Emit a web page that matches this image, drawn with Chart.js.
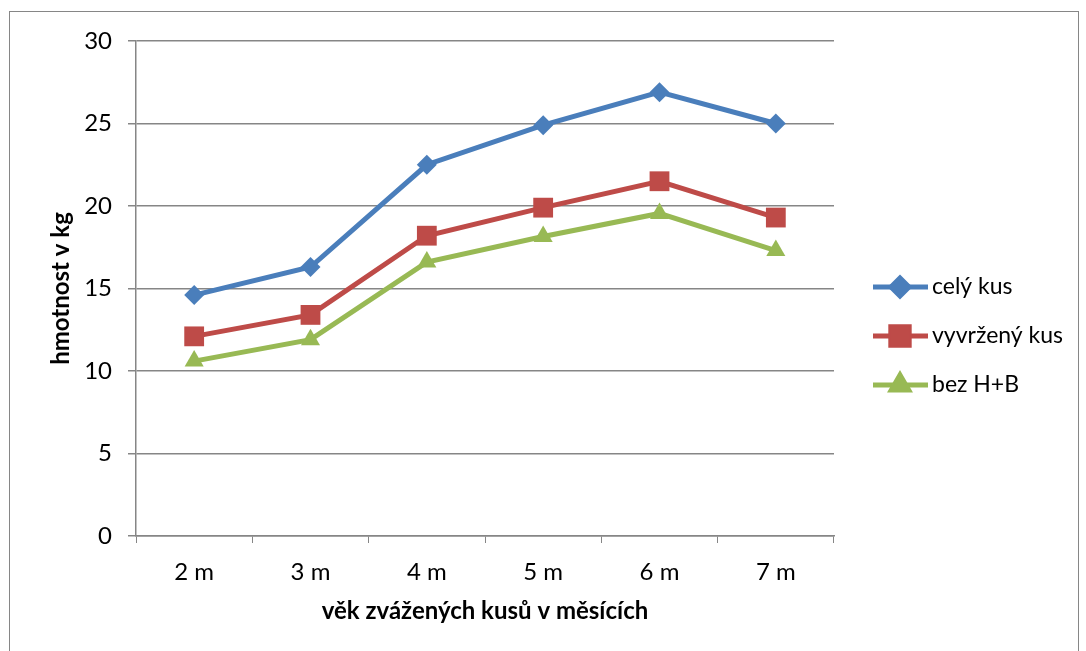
<!DOCTYPE html>
<html>
<head>
<meta charset="utf-8">
<style>
  html, body { margin: 0; padding: 0; background: #fff; }
  #wrap { position: relative; width: 1086px; height: 651px; }
</style>
<script src="https://cdn.jsdelivr.net/npm/chart.js@4"></script>
</head>
<body>
<div id="wrap"><canvas id="chart" width="1086" height="651"></canvas></div>
<script>
  var categories = ['2 m', '3 m', '4 m', '5 m', '6 m', '7 m'];
  var celyKus = [14.6, 16.3, 22.5, 24.9, 26.9, 25.0];
  var vyvrzenyKus = [12.1, 13.4, 18.2, 19.9, 21.5, 19.3];
  var bezHB = [10.6, 11.9, 16.6, 18.15, 19.55, 17.3];
  var seriesNames = ['celý kus', 'vyvržený kus', 'bez H+B'];

  var FONT = 'Lato, "Open Sans", sans-serif';

  // frame round the whole chart + legend with line and marker
  var framePlugin = {
    id: 'frame',
    beforeDraw: function(chart) {
      var ctx = chart.ctx;
      ctx.save();
      ctx.strokeStyle = '#868686';
      ctx.lineWidth = 1;
      ctx.strokeRect(9.5, 11.5, 1069, 700);
      ctx.restore();
    },
    afterDraw: function(chart) {
      var ctx = chart.ctx;
      ctx.save();
      chart.data.datasets.forEach(function(ds, i) {
        var y = 287 + i * 49;
        ctx.strokeStyle = ds.borderColor;
        ctx.lineWidth = 5;
        ctx.beginPath();
        ctx.moveTo(873, y);
        ctx.lineTo(928, y);
        ctx.stroke();
        Chart.helpers.drawPoint(ctx, {
          pointStyle: ds.pointStyle,
          radius: ds.pointRadius - 1,
          borderWidth: 1
        }, 900, y);
        ctx.fillStyle = ds.backgroundColor;
        ctx.fill();
        ctx.fillStyle = '#000';
        ctx.font = '23px ' + FONT;
        ctx.textBaseline = 'middle';
        ctx.textAlign = 'left';
        ctx.fillText(ds.label, 932, y);
      });
      ctx.restore();
    }
  };

  function series(label, data, color, style, radius) {
    return {
      label: label,
      data: data,
      borderColor: color,
      backgroundColor: color,
      borderWidth: 5,
      pointStyle: style,
      pointRadius: radius,
      pointHoverRadius: radius,
      pointBorderWidth: 0,
      tension: 0
    };
  }

  new Chart(document.getElementById('chart'), {
    type: 'line',
    data: {
      labels: categories,
      datasets: [
        series(seriesNames[0], celyKus, '#4A7EBB', 'rectRot', 10),
        series(seriesNames[1], vyvrzenyKus, '#BE4B48', 'rect', 14),
        series(seriesNames[2], bezHB, '#98B954', 'triangle', 11)
      ]
    },
    options: {
      responsive: false,
      animation: false,
      layout: { padding: { top: 41, right: 252, bottom: 0, left: 0 } },
      plugins: {
        legend: { display: false },
        tooltip: { enabled: false }
      },
      scales: {
        x: {
          offset: true,
          afterFit: function(s) { s.height = 115; },
          grid: { offset: true, drawOnChartArea: false, drawTicks: true, tickLength: 7, color: '#868686' },
          border: { color: '#868686', width: 1.5 },
          ticks: { color: '#000', font: { family: FONT, size: 24 }, padding: 15 },
          title: {
            display: true,
            text: 'věk zvážených kusů v měsících',
            color: '#000',
            font: { family: FONT, size: 24, weight: 'bold' },
            padding: { top: 0, bottom: 25 }
          }
        },
        y: {
          min: 0,
          max: 30,
          afterFit: function(s) { s.width = 136; },
          ticks: { stepSize: 5, color: '#000', font: { family: FONT, size: 24 }, padding: 16 },
          grid: { color: '#868686', lineWidth: 1.5, tickLength: 8 },
          border: { color: '#868686', width: 1.5 },
          title: {
            display: true,
            text: 'hmotnost v kg',
            color: '#000',
            font: { family: FONT, size: 24, weight: 'bold' },
            padding: { top: 47, bottom: 0 }
          }
        }
      }
    },
    plugins: [framePlugin]
  });
</script>
</body>
</html>
